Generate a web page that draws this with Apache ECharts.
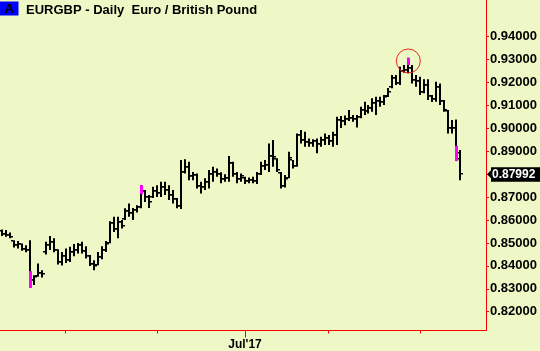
<!DOCTYPE html>
<html>
<head>
<meta charset="utf-8">
<script src="https://cdn.jsdelivr.net/npm/echarts@6/dist/echarts.min.js"></script>
<style>html,body{margin:0;padding:0;background:#eef7c6;}#c{width:540px;height:351px;}</style>
</head>
<body>
<div id="c"></div>
<script>
// ---- categories (trading days, plus empty room on the right) ----
const dates = [
 '2017-04-07','2017-04-10','2017-04-11','2017-04-12','2017-04-13','2017-04-14','2017-04-17','2017-04-18','2017-04-19','2017-04-20',
 '2017-04-21','2017-04-24','2017-04-25','2017-04-26','2017-04-27','2017-04-28',
 '2017-05-01','2017-05-02','2017-05-03','2017-05-04','2017-05-05','2017-05-08','2017-05-09','2017-05-10','2017-05-11','2017-05-12',
 '2017-05-15','2017-05-16','2017-05-17','2017-05-18','2017-05-19','2017-05-22','2017-05-23','2017-05-24','2017-05-25','2017-05-26',
 '2017-05-29','2017-05-30','2017-05-31',
 '2017-06-01','2017-06-02','2017-06-05','2017-06-06','2017-06-07','2017-06-08','2017-06-09','2017-06-12','2017-06-13','2017-06-14',
 '2017-06-15','2017-06-16','2017-06-19','2017-06-20','2017-06-21','2017-06-22','2017-06-23','2017-06-26','2017-06-27','2017-06-28',
 '2017-06-29','2017-06-30',
 '2017-07-03','2017-07-04','2017-07-05','2017-07-06','2017-07-07','2017-07-10','2017-07-11','2017-07-12','2017-07-13','2017-07-14',
 '2017-07-17','2017-07-18','2017-07-19','2017-07-20','2017-07-21','2017-07-24','2017-07-25','2017-07-26','2017-07-27','2017-07-28',
 '2017-07-31',
 '2017-08-01','2017-08-02','2017-08-03','2017-08-04','2017-08-07','2017-08-08','2017-08-09','2017-08-10','2017-08-11','2017-08-14',
 '2017-08-15','2017-08-16','2017-08-17','2017-08-18','2017-08-21','2017-08-22','2017-08-23','2017-08-24','2017-08-25','2017-08-28',
 '2017-08-29','2017-08-30','2017-08-31',
 '2017-09-01','2017-09-04','2017-09-05','2017-09-06','2017-09-07','2017-09-08','2017-09-11','2017-09-12','2017-09-13','2017-09-14',
 '2017-09-15',
 '2017-09-18','2017-09-19','2017-09-20','2017-09-21','2017-09-22','2017-09-25'
];

// ---- OHLC values ----
const opens = [
 .8550,.8540,.8535,.8510,.8490,.8495,.8475,.8470,.8340,.8355,
 .8370,.8460,.8490,.8505,.8470,.8415,.8445,.8425,.8460,.8470,
 .8490,.8465,.8445,.8410,.8405,.8440,.8470,.8500,.8585,.8560,
 .8590,.8605,.8640,.8630,.8645,.8655,.8725,.8700,.8700,.8725,
 .8720,.8745,.8730,.8710,.8690,.8660,.8810,.8830,.8790,.8795,
 .8750,.8745,.8765,.8800,.8810,.8800,.8780,.8785,.8850,.8800,
 .8780,.8785,.8770,.8775,.8770,.8800,.8835,.8840,.8880,.8865,
 .8805,.8750,.8785,.8860,.8835,.8970,.8950,.8940,.8935,.8945,
 .8930,.8950,.8960,.8945,.8970,.9035,.9030,.9040,.9045,.9040,
 .9050,.9080,.9075,.9090,.9110,.9120,.9115,.9140,.9180,.9220,
 .9200,.9250,.9255,.9265,.9210,.9205,.9160,.9190,.9140,.9130,
 .9180,.9120,.9075,.9000,.9000,.8891
];
const highs = [
 .8559,.8556,.8546,.8512,.8509,.8498,.8490,.8512,.8359,.8410,
 .8381,.8505,.8530,.8520,.8472,.8461,.8476,.8483,.8495,.8500,
 .8505,.8486,.8447,.8425,.8460,.8486,.8509,.8595,.8614,.8614,
 .8600,.8651,.8672,.8653,.8665,.8752,.8731,.8709,.8745,.8752,
 .8767,.8767,.8752,.8731,.8696,.8862,.8865,.8854,.8810,.8803,
 .8767,.8782,.8818,.8832,.8825,.8809,.8800,.8879,.8854,.8810,
 .8803,.8789,.8786,.8789,.8810,.8854,.8862,.8934,.8949,.8869,
 .8810,.8796,.8898,.8862,.8978,.8993,.8985,.8956,.8952,.8956,
 .8963,.8978,.8971,.8985,.9051,.9054,.9056,.9080,.9058,.9058,
 .9094,.9116,.9102,.9131,.9138,.9138,.9145,.9176,.9233,.9233,
 .9269,.9276,.9308,.9276,.9233,.9225,.9214,.9214,.9145,.9203,
 .9196,.9124,.9080,.9036,.9039,.8905
];
const lows = [
 .8530,.8527,.8520,.8480,.8476,.8466,.8459,.8304,.8316,.8352,
 .8349,.8450,.8469,.8459,.8406,.8402,.8413,.8417,.8442,.8454,
 .8454,.8432,.8399,.8381,.8403,.8429,.8460,.8499,.8548,.8520,
 .8563,.8600,.8614,.8600,.8633,.8651,.8679,.8652,.8696,.8701,
 .8701,.8709,.8687,.8672,.8651,.8648,.8803,.8774,.8774,.8738,
 .8716,.8731,.8738,.8767,.8789,.8761,.8767,.8767,.8789,.8760,
 .8767,.8757,.8760,.8760,.8757,.8796,.8818,.8810,.8832,.8810,
 .8738,.8742,.8782,.8825,.8832,.8934,.8920,.8920,.8920,.8891,
 .8920,.8927,.8927,.8920,.8927,.9001,.9014,.9032,.9029,.9004,
 .9044,.9058,.9065,.9072,.9058,.9094,.9102,.9137,.9175,.9189,
 .9189,.9243,.9240,.9196,.9182,.9145,.9153,.9124,.9115,.9116,
 .9102,.9072,.8978,.8978,.8857,.8774
];
const closes = [
 .8540,.8535,.8525,.8490,.8495,.8475,.8470,.8340,.8350,.8370,
 .8365,.8490,.8505,.8470,.8415,.8445,.8425,.8460,.8470,.8490,
 .8465,.8445,.8410,.8400,.8440,.8470,.8495,.8585,.8560,.8590,
 .8575,.8640,.8630,.8645,.8655,.8725,.8700,.8680,.8725,.8720,
 .8745,.8730,.8710,.8690,.8660,.8810,.8830,.8790,.8795,.8750,
 .8745,.8765,.8800,.8810,.8800,.8780,.8785,.8850,.8800,.8780,
 .8790,.8770,.8775,.8770,.8800,.8835,.8840,.8880,.8875,.8820,
 .8750,.8780,.8870,.8835,.8970,.8950,.8940,.8935,.8945,.8930,
 .8950,.8960,.8945,.8970,.9035,.9030,.9040,.9045,.9040,.9050,
 .9080,.9075,.9090,.9110,.9120,.9115,.9135,.9160,.9220,.9200,
 .9250,.9255,.9265,.9210,.9205,.9160,.9190,.9140,.9130,.9180,
 .9120,.9080,.9000,.9000,.8865,.87992
];

// ---- highlighted (magenta) bar segments: [date, top, bottom] ----
const signalDates = ['2017-04-18','2017-05-26','2017-08-29','2017-09-14'];
const signalTops = [.8377,.8752,.9308,.8924];
const signalBottoms = [.8304,.8713,.9276,.8857];

// circled high
const circleDate = '2017-08-29';
const circleValue = 0.9294;

// ---- tick labels ----
const yTicks = [0.82,0.83,0.84,0.85,0.86,0.87,0.88,0.89,0.90,0.91,0.92,0.93,0.94];
const xTickDates = ['2017-05-01','2017-06-01','2017-07-03','2017-08-01','2017-09-01'];
const xTickLabels = ['', '', "Jul'17", '', ''];

const titleText = 'EURGBP - Daily  Euro / British Pound';
const FONT = '"Liberation Sans", Arial, Helvetica, sans-serif';

const ohlc = opens.map((o, i) => [i, o, closes[i], lows[i], highs[i]]);
const sig = signalDates.map((d, k) => [dates.indexOf(d), signalTops[k], signalBottoms[k]]);

const chart = echarts.init(document.getElementById('c'), null, {renderer: 'canvas'});

function renderBar(params, api) {
  const i = api.value(0);
  const o = api.coord([i, api.value(1)]);
  const c = api.coord([i, api.value(2)]);
  const l = api.coord([i, api.value(3)]);
  const h = api.coord([i, api.value(4)]);
  const x = Math.round(h[0]);
  const fill = {fill: '#000000'};
  return {type: 'group', children: [
    {type: 'rect', shape: {x: x - 1, y: h[1], width: 2, height: Math.max(1, l[1] - h[1])}, style: fill},
    {type: 'rect', shape: {x: x - 3, y: Math.round(o[1]) - 1, width: 2, height: 1.5}, style: fill},
    {type: 'rect', shape: {x: x + 1, y: Math.round(c[1]) - 1, width: 2, height: 1.5}, style: fill}
  ]};
}
function renderSignal(params, api) {
  const i = api.value(0);
  const t = api.coord([i, api.value(1)]);
  const b = api.coord([i, api.value(2)]);
  const x = Math.round(t[0]);
  return {type: 'rect', shape: {x: x - 1, y: t[1], width: 3, height: b[1] - t[1]}, style: {fill: '#ff00ff'}};
}

const lblStyle = {color: '#000000', fontWeight: 'bold', fontSize: 12, fontFamily: FONT};

chart.setOption({
  animation: false,
  backgroundColor: '#eef7c6',
  grid: {left: -1, right: 53, top: 0, bottom: 20.5, containLabel: false},
  xAxis: [{
    type: 'category', data: dates, boundaryGap: true, position: 'bottom',
    axisLine: {show: true, lineStyle: {color: '#ff0000', width: 1}},
    axisTick: {show: true, alignWithLabel: true, length: 3, lineStyle: {color: '#ff0000', width: 1},
      interval: (idx, val) => xTickDates.indexOf(val) >= 0},
    axisLabel: Object.assign({
      interval: (idx, val) => xTickDates.indexOf(val) >= 0 && xTickLabels[xTickDates.indexOf(val)] !== '',
      formatter: (val) => { const k = xTickDates.indexOf(val); return k >= 0 ? xTickLabels[k] : ''; },
      margin: 8
    }, lblStyle),
    splitLine: {show: false}
  }, {
    type: 'category', data: dates, boundaryGap: true, position: 'bottom',
    axisLine: {show: false},
    axisTick: {show: true, alignWithLabel: true, length: 7, lineStyle: {color: '#ff0000', width: 1},
      interval: (idx, val) => { const k = xTickDates.indexOf(val); return k >= 0 && xTickLabels[k] !== ''; }},
    axisLabel: {show: false},
    splitLine: {show: false}
  }],
  yAxis: {
    type: 'value', position: 'right', min: 0.8118, max: 0.956,
    axisLine: {show: true, lineStyle: {color: '#ff0000', width: 1}},
    axisTick: {show: true, customValues: yTicks, length: 3, lineStyle: {color: '#ff0000', width: 1}},
    axisLabel: Object.assign({}, lblStyle, {customValues: yTicks, formatter: (v) => v.toFixed(5), margin: 4, fontSize: 13}),
    splitLine: {show: false}
  },
  series: [{
    type: 'custom', renderItem: renderBar, data: ohlc,
    encode: {x: 0, y: [1, 2, 3, 4]}, xAxisIndex: 0, yAxisIndex: 0, z: 2
  }, {
    type: 'custom', renderItem: renderSignal, data: sig,
    encode: {x: 0, y: [1, 2]}, xAxisIndex: 0, yAxisIndex: 0, z: 3
  }]
});

// overlay graphics placed through the chart's own scales
const lastIdx = closes.length - 1;
const lastClose = closes[lastIdx];
const py = chart.convertToPixel({yAxisIndex: 0}, lastClose);
const cpt = chart.convertToPixel({xAxisIndex: 0, yAxisIndex: 0}, [dates.indexOf(circleDate), circleValue]);
const axisX = 487;

chart.setOption({
  graphic: [
    {type: 'rect', left: 0, top: 1.5, shape: {width: 18.5, height: 14}, style: {fill: '#0000ff'}, z: 10},
    {type: 'text', x: 9.3, y: 9, style: {text: 'A', fill: '#000000', font: 'bold 13px ' + FONT, align: 'center', verticalAlign: 'middle'}, z: 11},
    {type: 'text', x: 26, y: 10, style: {text: titleText, fill: '#000000', font: 'bold 13px ' + FONT, align: 'left', verticalAlign: 'middle'}, z: 11},
    {type: 'circle', shape: {cx: cpt[0], cy: cpt[1], r: 12}, style: {fill: 'none', stroke: '#e8281e', lineWidth: 1}, z: 12},
    {type: 'polygon', shape: {points: [[axisX, py], [axisX + 4, py - 4], [axisX + 4, py - 7], [540, py - 7], [540, py + 7.5], [axisX + 4, py + 7.5], [axisX + 4, py + 4]]},
      style: {fill: '#000000'}, z: 12},
    {type: 'text', x: axisX + 5, y: py + 0.5, style: {text: lastClose.toFixed(5), fill: '#ffffff', font: 'bold 12px ' + FONT, align: 'left', verticalAlign: 'middle'}, z: 13}
  ]
});
</script>
</body>
</html>
